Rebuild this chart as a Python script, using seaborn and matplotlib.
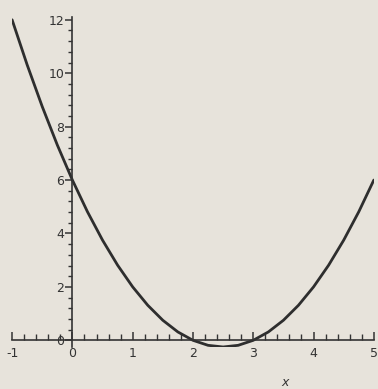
import matplotlib
matplotlib.use("Agg")
import matplotlib.pyplot as plt
import seaborn as sns
import pandas as pd
from matplotlib.ticker import MultipleLocator

x_vals = [-1, -0.75, -0.5, -0.25, 0, 0.25, 0.5, 0.75, 1, 1.25, 1.5, 1.75, 2,
          2.25, 2.5, 2.75, 3, 3.25, 3.5, 3.75, 4, 4.25, 4.5, 4.75, 5]
y_vals = [12, 10.3125, 8.75, 7.3125, 6, 4.8125, 3.75, 2.8125, 2, 1.3125, 0.75,
          0.3125, 0, -0.1875, -0.25, -0.1875, 0, 0.3125, 0.75, 1.3125, 2,
          2.8125, 3.75, 4.8125, 6]
x_ticks = [-1, 0, 1, 2, 3, 4, 5]
y_ticks = [0, 2, 4, 6, 8, 10, 12]
x_label = "x"

sns.set_style("white")
plt.rcParams['font.family'] = ['DejaVu Sans']
bg = "#e7e3db"
ink = "#333333"

fig = plt.figure(figsize=(3.78, 3.89), dpi=100, facecolor=bg)
ax = fig.add_axes([0.032, 0.108, 0.957, 0.848])
ax.set_facecolor(bg)

df = pd.DataFrame({"x": x_vals, "y": y_vals})
sns.lineplot(data=df, x="x", y="y", ax=ax, color="#2e2e2e", linewidth=2.0, sort=False)

ax.set_xlim(-1, 5)
ax.set_ylim(-0.25, 12.1)
for s in ["top", "right"]:
    ax.spines[s].set_visible(False)
ax.spines["left"].set_position(("data", 0))
ax.spines["bottom"].set_position(("data", 0))
for s in ["left", "bottom"]:
    ax.spines[s].set_color(ink)
    ax.spines[s].set_linewidth(1.2)

ax.set_xticks(x_ticks)
ax.set_yticks(y_ticks)
ax.xaxis.set_minor_locator(MultipleLocator(0.2))
ax.yaxis.set_minor_locator(MultipleLocator(0.4))
ax.tick_params(axis="x", which="both", bottom=True, direction="in", color=ink,
               labelcolor=ink, labelsize=9, pad=5)
ax.tick_params(axis="x", which="major", length=6, width=1.1)
ax.tick_params(axis="x", which="minor", length=4, width=1.0)
ax.tick_params(axis="y", which="both", left=True, direction="out", color=ink,
               labelcolor=ink, labelsize=9, pad=1)
ax.tick_params(axis="y", which="major", length=5, width=1.1)
ax.tick_params(axis="y", which="minor", length=3, width=1.0)
ax.set_xticklabels([str(t) for t in x_ticks])
ax.set_yticklabels([str(t) for t in y_ticks])

ax.set_xlabel("")
ax.set_ylabel("")
fig.text(285 / 378, 1 - 383 / 389, x_label, ha="center", va="center",
         fontsize=9, color=ink, style="italic")

fig.savefig("out.png", dpi=100, facecolor=bg)
